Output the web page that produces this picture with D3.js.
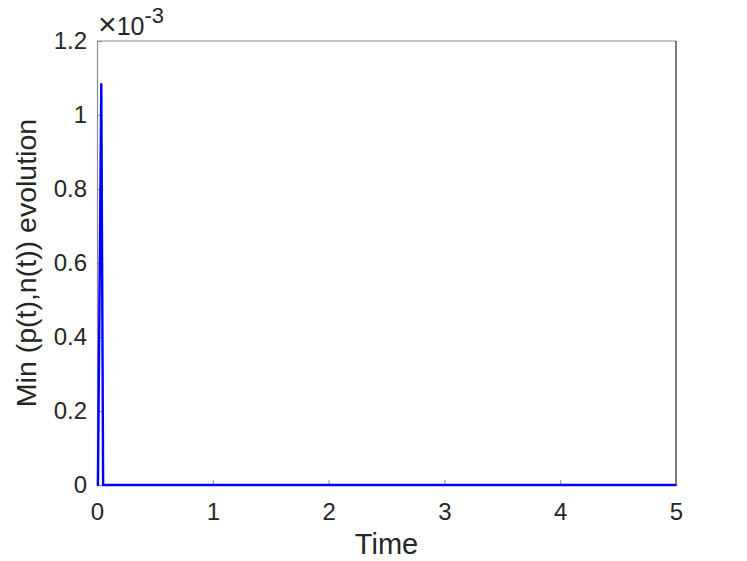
<!DOCTYPE html>
<html>
<head>
<meta charset="utf-8">
<script src="https://cdn.jsdelivr.net/npm/d3@7"></script>
<style>
  body { margin: 0; background: #fff; }
  text { font-family: "Liberation Sans", Arial, Helvetica, sans-serif; fill: #262626; }
</style>
</head>
<body>
<svg width="747" height="561"></svg>
<script>
// data
var times = [0, 0.008, 0.037, 0.053, 0.07, 5];
var minVals = [0, 0, 1.083e-3, 0, 0, 0];
var xTicks = [0, 1, 2, 3, 4, 5];
var yTicks = [0, 0.2e-3, 0.4e-3, 0.6e-3, 0.8e-3, 1.0e-3, 1.2e-3];
var yTickLabels = ["0", "0.2", "0.4", "0.6", "0.8", "1", "1.2"];

var svg = d3.select("svg"),
    pLeft = 97, pRight = 676, pTop = 41, pBottom = 485;

var x = d3.scaleLinear().domain([0, 5]).range([pLeft, pRight]);
var y = d3.scaleLinear().domain([0, 1.2e-3]).range([pBottom, pTop]);

// box
svg.append("line").attr("x1", pLeft).attr("x2", pRight).attr("y1", pTop).attr("y2", pTop)
    .style("stroke", "#8c8c8c").style("stroke-width", 1.2);
svg.append("line").attr("x1", pRight).attr("x2", pRight).attr("y1", pTop).attr("y2", pBottom)
    .style("stroke", "#262626").style("stroke-width", 1.2);

var xAxis = svg.append("g")
    .attr("transform", "translate(0," + pBottom + ")")
    .call(d3.axisBottom(x).tickValues(xTicks).tickSize(-5).tickPadding(18).tickFormat(d3.format("d")));
xAxis.select(".domain").style("stroke", "#262626").style("stroke-width", 1.2);
xAxis.selectAll(".tick line").style("stroke", "#8c8c8c");
xAxis.selectAll("text").style("font-size", "24px").style("fill", "#262626");

var yAxis = svg.append("g")
    .attr("transform", "translate(" + pLeft + ",0)")
    .call(d3.axisLeft(y).tickValues(yTicks).tickSize(-5).tickPadding(10)
      .tickFormat(function(d, i) { return yTickLabels[i]; }));
yAxis.select(".domain").style("stroke", "#8c8c8c").style("stroke-width", 1.2);
yAxis.selectAll(".tick line").style("stroke", "#8c8c8c");
yAxis.selectAll("text").style("font-size", "24px").style("fill", "#262626");

// exponent
var ex = svg.append("text").attr("x", pLeft + 1).attr("y", 35).style("font-size", "25px");
ex.append("tspan").style("font-size", "32px").style("font-weight", "300").text("\u00d7");
ex.append("tspan").text("10");
ex.append("tspan").attr("dy", -12).style("font-size", "22px").text("-3");

// axis labels
svg.append("text").attr("x", (pLeft + pRight) / 2).attr("y", 554)
    .attr("text-anchor", "middle").style("font-size", "29px").text("Time");
svg.append("text")
    .attr("transform", "translate(36," + (pTop + pBottom) / 2 + ") rotate(-90)")
    .attr("text-anchor", "middle").style("font-size", "28.5px").text("Min (p(t),n(t)) evolution");

var line = d3.line()
    .x(function(d, i) { return x(times[i]); })
    .y(function(d) { return y(d); });

svg.append("path")
    .datum(minVals)
    .attr("d", line)
    .style("fill", "none")
    .style("stroke", "#0000ff")
    .style("stroke-width", 2.4)
    .style("stroke-linejoin", "round");
</script>
</body>
</html>
